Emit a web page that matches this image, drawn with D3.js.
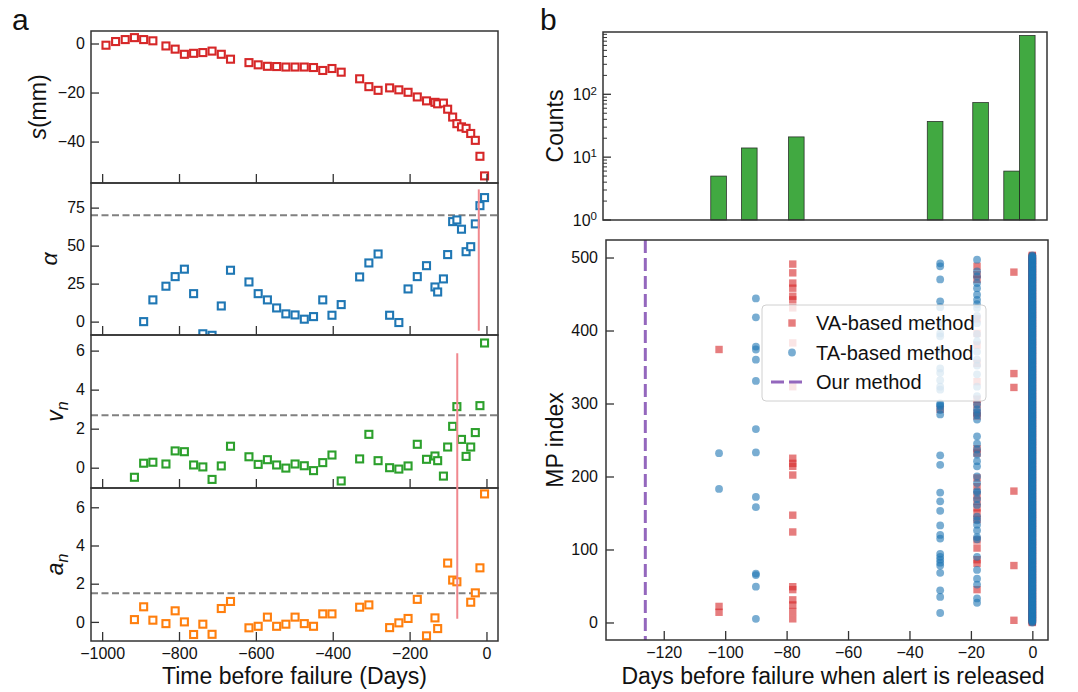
<!DOCTYPE html>
<html>
<head>
<meta charset="utf-8">
<script src="https://cdnjs.cloudflare.com/ajax/libs/d3/7.8.5/d3.min.js"></script>
<style>
  body { margin: 0; background: #fff; }
  svg { font-family: "Liberation Sans", Arial, sans-serif; }
</style>
</head>
<body>
<svg id="chart" width="1078" height="692"></svg>
<script>
// ---------- Panel a: monitoring series (days before failure) ----------
const days = [-990, -965, -940, -916, -892, -868, -834, -810, -786, -762, -738, -714, -690, -666,
  -618, -594, -570, -546, -522, -498, -474, -450, -426, -402, -378, -330, -306, -282, -252, -228,
  -204, -180, -156, -134, -127, -112, -101, -88, -77, -65, -53, -41, -29, -17, -5];

const displacement = [-0.7, 0.8, 1.6, 2.4, 1.6, 1.1, -1.0, -2.3, -4.4, -4.0, -3.7, -3.1, -4.4, -6.4,
  -7.8, -8.7, -9.3, -9.4, -9.6, -9.6, -9.6, -9.8, -11.0, -10.2, -11.7, -14.4, -17.6, -19.1, -18.1, -18.9,
  -19.9, -21.8, -23.4, -24.0, -24.6, -24.3, -26.8, -30.0, -32.7, -34.0, -34.6, -36.7, -39.5, -46.0, -54.0];

const alphaAngle = [null, null, null, null, 0, 14.3, 23.3, 29.6, 34.5, 18.4, -8, -9, 10.3, 33.8,
  26.1, 18.4, 14.3, 9, 5.1, 4.4, 1.6, 3.3, 14.3, 4.2, 11.2, 29.4, 38.6, 44.5, 4.2, -0.6,
  21.5, 29.6, 36.8, 22.8, 19.5, 28.1, 44.1, 65.8, 66.9, 60.8, 46, 49.3, 64.3, 76.3, 81.6];

const velocityN = [null, null, null, -0.49, 0.23, 0.28, 0.19, 0.86, 0.82, 0.14, 0.04, -0.6, 0.09, 1.1,
  0.56, 0.17, 0.41, 0.14, -0.02, 0.19, 0.1, -0.15, 0.26, 0.65, -0.68, 0.45, 1.71, 0.36, 0, -0.07,
  0.09, 1.2, 0.43, 0.6, 0.36, -0.43, 1.06, 2.12, 3.13, 1.45, 0.58, 1.06, 1.8, 3.18, 6.39];

const accelN = [null, null, null, 0.12, 0.79, 0.09, -0.09, 0.58, 0, -0.66, -0.12, -0.65, 0.7, 1.07,
  -0.31, -0.23, 0.25, -0.23, -0.12, 0.25, -0.09, -0.23, 0.42, 0.42, null, 0.77, 0.89, null, -0.3, -0.05,
  0.18, 1.18, -0.73, 0.21, -0.35, null, 3.08, 2.19, 2.1, null, null, 1.03, 1.52, 2.83, 6.7];

// thresholds for the warning criteria
const alphaThreshold = 70;
const vnThreshold = 2.69;
const anThreshold = 1.5;

// alert markers: [day, low value, high value]
const alphaAlert = [-20, -6, 87];
const vnAnAlert = [-76, 5.87, 0.16]; // day, top (v_n units), bottom (a_n units)

const xTicksA = [-1000, -800, -600, -400, -200, 0];

// ---------- Panel b: alert timing per monitoring point ----------
const histLo = [-104.7, -94.7, -79.4, -34.2, -19.4, -9.3, -4.2];
const histHi = [-99.6, -89.6, -74.3, -29.1, -14.3, -4.2, 0.9];
const histCounts = [5, 14, 21, 37, 74, 6, 864];

const vaAlerts = [
  [-102, [374, 22, 14]],
  [-78, [491, 479, 465, 458, 447, 442, 431, 383, 323, 225, 218, 214, 202, 147, 124, 49, 45, 31, 24, 15, 5]],
  [-30, [292]],
  [-18, [488, 477, 470, 416, 396, 380, 355, 330, 306, 298, 287, 283, 238, 232, 198, 186, 175, 166, 157,
         150, 141, 113, 102, 86, 81, 45]],
  [-6, [480, 341, 322, 180, 78, 3]]
];
const taAlerts = [
  [-102, [232, 183]],
  [-90, [444, 418, 378, 374, 360, 331, 265, 233, 172, 158, 67, 65, 49, 5]],
  [-30, [492, 488, 470, 440, 432, 410, 396, 392, 374, 348, 342, 332, 323, 319, 300, 298, 296, 291, 285,
         229, 216, 178, 166, 153, 133, 120, 115, 94, 90, 86, 82, 78, 68, 44, 35, 13]],
  [-18, [497, 481, 474, 465, 458, 449, 442, 436, 431, 420, 410, 395, 385, 371, 360, 352, 340, 323, 310,
         299, 292, 288, 284, 278, 255, 245, 237, 230, 221, 214, 200, 191, 180, 178, 169, 161, 145, 140,
         134, 126, 117, 114, 90, 72, 60, 52, 33, 27]]
];
// every monitoring point (index range) raised its alert on the failure day
const day0MpRange = [0, 503];
const ourMethodDay = -126;

const xTicksB = [-120, -100, -80, -60, -40, -20, 0];
const yTicksB = [0, 100, 200, 300, 400, 500];

// ---------- drawing ----------
const svg = d3.select("#chart");
const SPINE = "#333";
const TICK_FONT = 16;
const TITLE_FONT = 23;
const fmt = d3.format("d");

function styleAxis(g) {
  g.select(".domain").remove();
  g.selectAll(".tick line").attr("stroke", SPINE).attr("stroke-width", 1.3);
  g.selectAll(".tick text").attr("font-size", TICK_FONT).attr("fill", "#111")
    .attr("font-family", "Liberation Sans, Arial, sans-serif");
}

// Panel a
const xa = d3.scaleLinear().domain([-1029, 30]).range([91, 498]);
const panelsA = [
  { top: 31, bottom: 183, domain: [-56.9, 5.1], ticks: [-40, -20, 0], values: displacement,
    color: "#d62728", label: [["s", true], ["(mm)", false]], labelX: 46 },
  { top: 183, bottom: 335, domain: [-8.8, 91.2], ticks: [0, 25, 50, 75], values: alphaAngle,
    color: "#1f77b4", label: [["α", true]], labelX: 57, threshold: alphaThreshold },
  { top: 335, bottom: 488, domain: [-1.04, 6.8], ticks: [0, 2, 4, 6], values: velocityN,
    color: "#2ca02c", label: [["v", true], ["n", true, true]], labelX: 63, threshold: vnThreshold },
  { top: 488, bottom: 641, domain: [-1.0, 7.01], ticks: [0, 2, 4, 6], values: accelN,
    color: "#ff7f0e", label: [["a", true], ["n", true, true]], labelX: 63, threshold: anThreshold }
];

panelsA.forEach((p, i) => {
  p.y = d3.scaleLinear().domain(p.domain).range([p.bottom, p.top]);
  const g = svg.append("g");
  const clipId = "clipA" + i;
  svg.append("clipPath").attr("id", clipId).append("rect")
    .attr("x", xa.range()[0]).attr("y", p.top)
    .attr("width", xa.range()[1] - xa.range()[0]).attr("height", p.bottom - p.top);
  const inner = g.append("g").attr("clip-path", `url(#${clipId})`);

  if (p.threshold !== undefined) {
    inner.append("line")
      .attr("x1", xa.range()[0]).attr("x2", xa.range()[1])
      .attr("y1", p.y(p.threshold)).attr("y2", p.y(p.threshold))
      .attr("stroke", "#808080").attr("stroke-width", 2).attr("stroke-dasharray", "7,3.5");
  }

  const pts = days.map((d, k) => ({ d, v: p.values[k] })).filter(o => o.v !== null);
  const side = 7;
  inner.selectAll("rect.pt").data(pts).join("rect").attr("class", "pt")
    .attr("x", o => xa(o.d) - side / 2).attr("y", o => p.y(o.v) - side / 2)
    .attr("width", side).attr("height", side)
    .attr("fill", "#fff").attr("stroke", p.color).attr("stroke-width", 2.1);

  if (i === 1) {
    inner.append("line")
      .attr("x1", xa(alphaAlert[0])).attr("x2", xa(alphaAlert[0]))
      .attr("y1", p.y(alphaAlert[2])).attr("y2", p.y(alphaAlert[1]))
      .attr("stroke", "#f0888e").attr("stroke-width", 2);
  }

  // ticks pointing inward
  g.append("g").attr("transform", `translate(${xa.range()[0]},0)`)
    .call(d3.axisLeft(p.y).tickValues(p.ticks).tickFormat(fmt).tickSize(-8).tickPadding(6))
    .call(styleAxis);
  const xAxis = d3.axisBottom(xa).tickValues(xTicksA).tickFormat(i < 3 ? "" : fmt)
    .tickSize(-9).tickPadding(7);
  g.append("g").attr("transform", `translate(0,${p.bottom})`).call(xAxis).call(styleAxis);

  g.append("rect").attr("x", xa.range()[0]).attr("y", p.top)
    .attr("width", xa.range()[1] - xa.range()[0]).attr("height", p.bottom - p.top)
    .attr("fill", "none").attr("stroke", SPINE).attr("stroke-width", 1.5);

  // y label
  const t = svg.append("text")
    .attr("transform", `translate(${p.labelX},${(p.top + p.bottom) / 2}) rotate(-90)`)
    .attr("text-anchor", "middle").attr("font-size", TITLE_FONT).attr("fill", "#111");
  p.label.forEach(([txt, ital, sub]) => {
    const ts = t.append("tspan").text(txt);
    if (ital) ts.attr("font-style", "italic");
    if (sub) ts.attr("font-size", 16).attr("dy", "0.3em");
  });
});

// alert line spanning the v_n and a_n panels
svg.append("line")
  .attr("x1", xa(vnAnAlert[0])).attr("x2", xa(vnAnAlert[0]))
  .attr("y1", panelsA[2].y(vnAnAlert[1])).attr("y2", panelsA[3].y(vnAnAlert[2]))
  .attr("stroke", "#f0888e").attr("stroke-width", 2);

svg.append("text").attr("x", (xa(-1029) + xa(30)) / 2).attr("y", 684)
  .attr("text-anchor", "middle").attr("font-size", TITLE_FONT).attr("fill", "#111")
  .text("Time before failure (Days)");

svg.append("text").attr("x", 12).attr("y", 30).attr("font-size", 30).attr("fill", "#111").text("a");
svg.append("text").attr("x", 540).attr("y", 30).attr("font-size", 30).attr("fill", "#111").text("b");

// Panel b
const xb = d3.scaleLinear().domain([-138.8, 5.1]).range([606, 1048]);
const yb = d3.scaleLinear().domain([-24, 524]).range([640, 240]);

// histogram of alert days (log counts)
const hTop = 32, hBot = 220;
const yh = d3.scaleLog().domain([1, 980]).range([hBot, hTop]);
const hist = histCounts.map((c, k) => ({ lo: histLo[k], hi: histHi[k], c }));
svg.append("g").selectAll("rect").data(hist).join("rect")
  .attr("x", o => xb(o.lo)).attr("width", o => xb(o.hi) - xb(o.lo))
  .attr("y", o => yh(o.c)).attr("height", o => hBot - yh(o.c))
  .attr("fill", "#2ca02c").attr("fill-opacity", 0.9)
  .attr("stroke", "#1a1a1a").attr("stroke-opacity", 0.85).attr("stroke-width", 0.8);

const hg = svg.append("g");
const minor = [];
[1, 10, 100].forEach(b => { for (let m = 2; m <= 9; m++) if (b * m <= 980) minor.push(b * m); });
hg.selectAll("line.minor").data(minor).join("line").attr("class", "minor")
  .attr("x1", xb.range()[0] - 3).attr("x2", xb.range()[0] - 3 + 4)
  .attr("y1", d => yh(d)).attr("y2", d => yh(d)).attr("stroke", SPINE).attr("stroke-width", 1);
const major = [1, 10, 100];
hg.selectAll("line.major").data(major).join("line").attr("class", "major")
  .attr("x1", xb.range()[0] - 3).attr("x2", xb.range()[0] - 3 + 8)
  .attr("y1", d => yh(d)).attr("y2", d => yh(d)).attr("stroke", SPINE).attr("stroke-width", 1.3);
major.forEach(d => {
  const t = hg.append("text").attr("x", xb.range()[0] - 9).attr("y", yh(d) + 6)
    .attr("text-anchor", "end").attr("font-size", TICK_FONT).attr("fill", "#111");
  t.append("tspan").text("10");
  t.append("tspan").attr("dy", "-0.5em").attr("font-size", 11.5).text(String(Math.round(Math.log10(d))));
});
hg.append("rect").attr("x", xb.range()[0] - 3).attr("y", hTop)
  .attr("width", xb.range()[1] - xb.range()[0] + 2).attr("height", hBot - hTop)
  .attr("fill", "none").attr("stroke", SPINE).attr("stroke-width", 1.5);
svg.append("text").attr("transform", `translate(563,${(hTop + hBot) / 2}) rotate(-90)`)
  .attr("text-anchor", "middle").attr("font-size", TITLE_FONT).attr("fill", "#111").text("Counts");

// scatter of alerts per monitoring point
const sg = svg.append("g");
const day0Mps = d3.range(day0MpRange[0], day0MpRange[1] + 1);
const vaPts = vaAlerts.flatMap(([d, mps]) => mps.map(m => ({ d, m })))
  .concat(day0Mps.map(m => ({ d: 0, m })));
const taPts = taAlerts.flatMap(([d, mps]) => mps.map(m => ({ d, m })))
  .concat(day0Mps.map(m => ({ d: 0, m })));
const sq = 7.4;
sg.selectAll("rect.va").data(vaPts).join("rect").attr("class", "va")
  .attr("x", o => xb(o.d) - sq / 2).attr("y", o => yb(o.m) - sq / 2)
  .attr("width", sq).attr("height", sq)
  .attr("fill", "#d62728").attr("fill-opacity", 0.6);
sg.selectAll("circle.ta").data(taPts).join("circle").attr("class", "ta")
  .attr("cx", o => xb(o.d)).attr("cy", o => yb(o.m)).attr("r", 3.9)
  .attr("fill", "#1f77b4").attr("fill-opacity", 0.6);

sg.append("line").attr("x1", xb(ourMethodDay)).attr("x2", xb(ourMethodDay))
  .attr("y1", yb.range()[1]).attr("y2", yb.range()[0])
  .attr("stroke", "#9467bd").attr("stroke-width", 3).attr("stroke-dasharray", "13,5");

const bx = svg.append("g");
bx.append("g").attr("transform", `translate(0,${yb.range()[0]})`)
  .call(d3.axisBottom(xb).tickValues(xTicksB).tickFormat(fmt).tickSize(-9).tickPadding(7)).call(styleAxis);
bx.append("g").attr("transform", `translate(${xb.range()[0]},0)`)
  .call(d3.axisLeft(yb).tickValues(yTicksB).tickFormat(fmt).tickSize(-8).tickPadding(8)).call(styleAxis);
bx.append("rect").attr("x", xb.range()[0]).attr("y", yb.range()[1])
  .attr("width", xb.range()[1] - xb.range()[0]).attr("height", yb.range()[0] - yb.range()[1])
  .attr("fill", "none").attr("stroke", SPINE).attr("stroke-width", 1.5);

svg.append("text").attr("transform", `translate(563,${(yb.range()[0] + yb.range()[1]) / 2}) rotate(-90)`)
  .attr("text-anchor", "middle").attr("font-size", TITLE_FONT).attr("fill", "#111").text("MP index");
svg.append("text").attr("x", (xb.range()[0] + xb.range()[1]) / 2 + 6).attr("y", 684)
  .attr("text-anchor", "middle").attr("font-size", TITLE_FONT).attr("fill", "#111")
  .text("Days before failure when alert is released");

// legend
const lg = svg.append("g").attr("transform", "translate(762,305)");
lg.append("rect").attr("width", 224).attr("height", 96).attr("rx", 4)
  .attr("fill", "#fff").attr("fill-opacity", 0.8).attr("stroke", "#d0d0d0");
const legendItems = ["VA-based method", "TA-based method", "Our method"];
legendItems.forEach((name, k) => {
  const cy = 18 + k * 29.5;
  if (k === 0) lg.append("rect").attr("x", 30 - sq / 2).attr("y", cy - sq / 2).attr("width", sq).attr("height", sq)
    .attr("fill", "#d62728").attr("fill-opacity", 0.6);
  if (k === 1) lg.append("circle").attr("cx", 30).attr("cy", cy).attr("r", 3.9)
    .attr("fill", "#1f77b4").attr("fill-opacity", 0.6);
  if (k === 2) lg.append("line").attr("x1", 9).attr("x2", 45).attr("y1", cy).attr("y2", cy)
    .attr("stroke", "#9467bd").attr("stroke-width", 3).attr("stroke-dasharray", "13,5");
  lg.append("text").attr("x", 54).attr("y", cy + 7).attr("font-size", 20).attr("fill", "#111").text(name);
});
</script>
</body>
</html>
